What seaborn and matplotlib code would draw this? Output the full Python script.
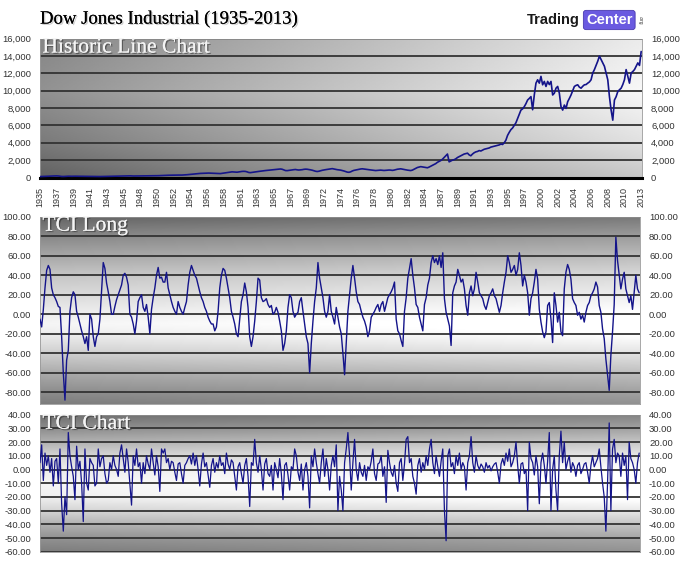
import numpy as np
import matplotlib
matplotlib.use("Agg")
import matplotlib.pyplot as plt
import matplotlib.patheffects as pe
from matplotlib.ticker import FuncFormatter
import seaborn as sns

# jaartallen onder de bovenste grafiek (om de 10 punten een label)
jaar_labels = ["1935", "1937", "1939", "1941", "1943", "1945", "1948", "1950", "1952", "1954",
               "1956", "1958", "1961", "1963", "1965", "1967", "1969", "1972", "1974", "1976",
               "1978", "1980", "1982", "1984", "1987", "1989", "1991", "1993", "1995", "1997",
               "2000", "2002", "2004", "2006", "2008", "2010", "2013"]

dow = [105, 110, 120, 130, 140, 150, 160, 170, 175, 180, 185,
       175, 150, 120, 115, 130, 140, 150, 145, 140, 150,
       148, 145, 140, 150, 145, 135, 130, 125, 120, 125,
       115, 110, 105, 100, 105, 110, 115, 120, 125, 130,
       135, 138, 140, 145, 150, 152, 155, 160, 170, 180,
       190, 200, 205, 190, 175, 170, 175, 180, 178, 180,
       182, 178, 175, 180, 185, 190, 195, 200, 205, 200,
       210, 220, 230, 240, 250, 255, 260, 265, 270, 275,
       280, 285, 280, 275, 280, 290, 300, 320, 340, 360,
       380, 400, 420, 440, 460, 470, 480, 490, 500, 500,
       510, 500, 490, 480, 470, 450, 440, 450, 480, 500,
       530, 560, 590, 620, 650, 640, 620, 610, 640, 680,
       700, 710, 700, 650, 580, 560, 590, 620, 650, 680,
       700, 720, 750, 780, 800, 820, 840, 860, 880, 900,
       920, 940, 960, 980, 950, 880, 800, 790, 820, 860,
       880, 900, 920, 880, 860, 880, 900, 940, 960, 950,
       920, 880, 840, 780, 720, 690, 720, 780, 830, 870,
       900, 930, 960, 1000, 1020, 980, 950, 900, 880, 850,
       800, 750, 680, 620, 600, 650, 750, 820, 860, 900,
       950, 980, 1000, 980, 950, 920, 900, 870, 850, 820,
       800, 820, 830, 850, 830, 810, 820, 840, 860, 850,
       820, 850, 900, 950, 980, 1000, 960, 920, 880, 850,
       820, 800, 850, 950, 1050, 1150, 1200, 1250, 1220, 1180,
       1150, 1120, 1200, 1300, 1400, 1500, 1600, 1750, 1850, 1950,
       2100, 2300, 2500, 2700, 1800, 1900, 2000, 2050, 2150, 2300,
       2400, 2500, 2600, 2700, 2750, 2800, 2600, 2500, 2700, 2850,
       2950, 3000, 3100, 3050, 3150, 3250, 3300, 3350, 3400, 3500,
       3550, 3600, 3650, 3690, 3750, 3850, 3800, 4000, 4300, 4850,
       5200, 5510, 5700, 6010, 6300, 6790, 7300, 7760, 7900, 8150,
       8500, 8920, 9100, 9310, 7800, 9500, 10860, 11250, 10860, 11640,
       10670, 11060, 10480, 11060, 10700, 11060, 9500, 9700, 10280, 10480,
       9700, 8150, 7760, 8340, 7950, 8730, 9100, 9500, 10000, 10480,
       10600, 10670, 10400, 10280, 10500, 10670, 10700, 10860, 11000, 11250,
       12030, 12420, 12900, 13390, 13970, 13580, 13190, 12800, 12030, 11250,
       9310, 7760, 6600, 8920, 9300, 9890, 10100, 10280, 10700, 11250,
       12420, 11640, 10860, 12030, 12200, 12420, 12800, 13190, 12900, 14500]

tci_long = [-5, -13, 5, 27, 45, 50, 46, 27, 20, 17,
            13, 8, 7, -23, -60, -88, -47, -37, 3, 17,
            23, 20, 3, -3, -10, -17, -23, -30, -23, -37,
            0, -5, -23, -33, -23, -20, -5, 25, 53, 47,
            32, 23, 13, 0, 0, 8, 15, 20, 25, 30,
            40, 42, 38, 30, 0, -3, -10, -20, -7, 13,
            17, 20, 7, 3, 10, -3, -20, 5, 17, 27,
            40, 48, 37, 38, 33, 33, 43, 27, 20, 13,
            7, 3, 0, 13, 7, 3, 0, 7, 13, 30,
            43, 50, 45, 40, 37, 30, 23, 17, 13, 7,
            3, -3, -7, -10, -10, -17, -13, 3, 27, 40,
            47, 45, 37, 27, 17, 3, -3, -10, -20, -23,
            -5, 13, 20, 32, 23, 7, -23, -33, -23, -7,
            13, 37, 35, 17, 13, 14, 16, 10, 7, 9,
            0, 2, 7, 2, -7, -17, -37, -30, -17, 7,
            20, 17, 3, -3, 0, 2, 13, 17, 3, -10,
            -23, -30, -60, -30, -7, 13, 27, 53, 37, 27,
            17, 3, -3, 3, 20, 3, -3, -10, 7, -3,
            -13, -20, -40, -62, -30, 3, 20, 37, 50, 37,
            23, 13, 10, 3, -3, -7, -13, -23, -17, -3,
            0, 3, 7, 10, 3, 10, 13, 3, 10, 17,
            20, 23, 27, 33, -5, -17, -20, -27, -33, 3,
            17, 37, 47, 57, 40, 27, 10, 7, -3, -10,
            -17, 10, 17, 30, 37, 53, 60, 53, 57, 51,
            60, 48, 63, 16, 2, -5, -12, -32, 22, 29,
            33, 46, 40, 33, 36, 26, 9, -1, 22, 29,
            19, 26, 43, 33, 22, 19, 16, 9, 5, 12,
            19, 22, 26, 19, 16, 9, 2, 9, 22, 33,
            43, 60, 53, 43, 46, 50, 40, 46, 63, 50,
            29, 40, 33, 22, -1, 16, 22, 33, 46, 36,
            5, -8, -18, -24, -18, 9, 12, -5, -29, 22,
            9, -8, 2, -18, -22, 26, 43, 51, 46, 36,
            16, 12, 9, -1, 2, -5, -1, -8, 2, 9,
            12, 19, 22, 26, 33, 28, 9, 2, -15, -25,
            -46, -62, -78, -42, -18, 10, 79, 55, 40, 26,
            36, 43, 26, 19, 12, 19, 5, 22, 40, 26,
            22]

tci_chart = [5, 18, -8, 12, 3, 10, -2, 8, -12, 6,
             8, -10, 15, -25, -45, -20, -33, 27, 10, 2,
             -5, -22, 17, 0, 6, -10, -38, 15, -10, -15,
             8, 5, 3, -12, -10, 15, 2, 8, 10, -3,
             -10, -8, 5, 0, 10, 3, 0, -5, 12, 18,
             8, -2, 15, 5, -10, -26, 10, 3, 15, 2,
             5, -10, 5, -3, 10, 4, 0, 15, 5, -4,
             10, 2, -16, 15, 12, 15, 5, 8, 0, 6,
             5, -2, -8, 4, 5, -3, -10, 3, 5, 8,
             10, 4, 12, 3, 10, 0, -12, 4, 12, 2,
             5, -4, -13, 3, 8, -2, 5, 1, 10, 3,
             5, -3, 12, 4, 0, 7, 5, -5, -15, 2,
             5, -3, -10, 3, 8, -5, -27, 5, 3, 22,
             5, -2, 10, 0, -15, 4, 8, -3, -5, 3,
             -15, 5, 0, -6, 8, -3, -22, 3, 5, -4,
             -15, 2, 0, 15, 10, -2, -8, 4, -15, 0,
             5, -5, -28, 10, 2, 15, 5, -3, -10, 5,
             15, -5, 8, 0, -15, 3, 10, 2, 18, -30,
             -5, -15, -30, 5, 15, 27, 10, -15, 5, 22,
             0, -8, 5, -2, -5, 3, -8, 2, 0, 6,
             15, -3, -8, 4, 5, 10, -5, 2, -24, 14,
             5, -2, -5, 3, -10, -16, 5, 8, -8, 4,
             22, 24, 5, 8, -5, -10, -18, 3, 8, -2,
             5, 0, 10, 3, 15, 22, 5, -3, 10, 2,
             -5, 6, 15, -30, -52, 10, 15, 2, 5, -3,
             10, 3, 12, 0, 5, 2, -15, 5, 10, 24,
             5, -2, 10, 3, 0, 4, 2, -2, 5, 1,
             3, -1, 2, 4, 5, -2, -10, 4, 8, 3,
             12, 6, 15, 2, 5, 10, 20, 3, -10, 4,
             5, -3, 0, -30, 20, 8, 5, -4, 10, 2,
             -25, 5, 12, 3, -10, 6, 27, -30, 0, 10,
             -15, -30, 10, 28, 5, 20, 0, 6, 10, -2,
             5, 2, -5, 3, 5, -3, 0, 4, 5, -2,
             -10, 3, 10, 2, 5, 8, 15, 2, -10, -20,
             -45, -10, 34, -30, 15, 22, 5, 12, 10, -5,
             12, 3, 10, -22, 20, 8, 5, 0, -10, 5,
             12]

lijn_kleur = "#14148a"
W, H = 680, 568

sns.set_style("white")
plt.rcParams["font.family"] = ["Liberation Sans", "DejaVu Sans"]

fig = plt.figure(figsize=(W / 100, H / 100), dpi=100)
fig.patch.set_facecolor("white")


def pix_as(x0, y0, x1, y1):
    # assenstelsel op pixelposities (boven-links oorsprong)
    return fig.add_axes([x0 / W, 1 - y1 / H, (x1 - x0) / W, (y1 - y0) / H])


def verloop(ax, ylim, stops_v, stops_g, hor=(0.0, 0.0)):
    # grijs verloop als achtergrond, verticaal volgens de stops, plus kleine horizontale term
    v = np.linspace(ylim[1], ylim[0], 300)
    kol = np.interp(v, stops_v, stops_g)
    h = np.linspace(hor[0], hor[1], 300)
    beeld = np.clip(kol[:, None] + h[None, :], 0, 1)
    ax.imshow(beeld, cmap="gray", vmin=0, vmax=1, aspect="auto",
              extent=(0, 1, 0, 1), transform=ax.transAxes, zorder=0)


def opmaak(ax, ticks, fmt, ylim):
    ax.set_ylim(*ylim)
    ax.set_xlim(0, len(dow) - 0.5)
    ax.set_yticks(ticks)
    ax.yaxis.set_major_formatter(FuncFormatter(fmt))
    ax.tick_params(axis="y", labelleft=True, labelright=True, left=False, right=False,
                   labelsize=6.8, labelcolor="#333333", pad=3)
    ax.set_axisbelow(True)
    ax.yaxis.grid(True, color="#333333", linewidth=1.3)
    ax.xaxis.grid(False)
    for s in ax.spines.values():
        s.set_color("#999999")
        s.set_linewidth(0.6)
    ax.set_xlabel("")
    ax.set_ylabel("")


def paneel_titel(ax, tekst):
    ax.text(0.004, 1.0, tekst, transform=ax.transAxes, ha="left", va="top",
            family=["Liberation Serif", "DejaVu Serif"], fontsize=15.5, color="#f4f4f4", zorder=5,
            path_effects=[pe.withSimplePatchShadow(offset=(1, -1), shadow_rgbFace="#222222", alpha=0.5),
                          pe.Normal()])


x = np.arange(len(dow))

# --- bovenste grafiek: koers ---
ax1 = pix_as(40, 38.5, 642, 177.5)
verloop(ax1, (0, 16000), [0, 4000, 10000, 16000], [0.36, 0.46, 0.55, 0.50], hor=(0.02, 0.42))
sns.lineplot(x=x, y=dow, ax=ax1, color=lijn_kleur, linewidth=1.2, zorder=3)
opmaak(ax1, np.arange(0, 16001, 2000), lambda v, p: f"{int(v):,}", (0, 16000))
ax1.set_xticks(np.arange(len(jaar_labels)) * 10)
ax1.set_xticklabels(jaar_labels, rotation=90, fontsize=6.5, color="#333333")
ax1.tick_params(axis="x", bottom=False, pad=3)
ax1.spines["bottom"].set_color("black")
ax1.spines["bottom"].set_linewidth(2.2)
paneel_titel(ax1, "Historic Line Chart")

# --- TCI Long ---
ax2 = pix_as(40, 216.7, 640, 404)
verloop(ax2, (-92, 100),
        [-92, -80, -60, -40, -20, -10, 0, 20, 40, 60, 80, 100],
        [0.52, 0.58, 0.70, 0.84, 0.96, 0.99, 0.96, 0.88, 0.80, 0.68, 0.56, 0.42], hor=(-0.03, 0.05))
sns.lineplot(x=x, y=tci_long, ax=ax2, color=lijn_kleur, linewidth=1.0, zorder=3)
opmaak(ax2, np.arange(-80, 101, 20), lambda v, p: f"{v:.2f}", (-92, 100))
ax2.set_xticks([])
paneel_titel(ax2, "TCI Long")

# --- TCI Chart ---
ax3 = pix_as(40, 414.7, 640, 551.7)
verloop(ax3, (-60, 40),
        [-60, -50, -40, -30, -20, -10, 0, 10, 20, 30, 40],
        [0.52, 0.60, 0.72, 0.86, 0.97, 0.99, 0.95, 0.86, 0.72, 0.58, 0.46], hor=(-0.03, 0.05))
sns.lineplot(x=x, y=tci_chart, ax=ax3, color=lijn_kleur, linewidth=0.9, zorder=3)
opmaak(ax3, np.arange(-60, 41, 10), lambda v, p: f"{v:.2f}", (-60, 40))
ax3.set_xticks([])
paneel_titel(ax3, "TCI Chart")

# --- titel en logo ---
fig.text(40 / W, 1 - 19 / H, "Dow Jones Industrial (1935-2013)", ha="left", va="center",
         family=["Liberation Serif", "DejaVu Serif"], fontsize=13.5, color="black",
         path_effects=[pe.withSimplePatchShadow(offset=(1, -1), shadow_rgbFace="#999999", alpha=0.5),
                       pe.Normal()])
fig.text(527 / W, 1 - 20 / H, "Trading", ha="left", va="center", fontsize=10.5,
         fontweight="bold", color="#1a1a1a")
fig.text(586 / W, 1 - 20 / H, "Center", ha="left", va="center", fontsize=10.5,
         fontweight="bold", color="white",
         bbox=dict(boxstyle="round,pad=0.18", facecolor="#6a5ae0", edgecolor="#4a3ab0", linewidth=0.6))
fig.text(638 / W, 1 - 20 / H, ".org", ha="left", va="center", fontsize=3.5, rotation=270, color="#333333")

fig.savefig("out.png", dpi=100)
